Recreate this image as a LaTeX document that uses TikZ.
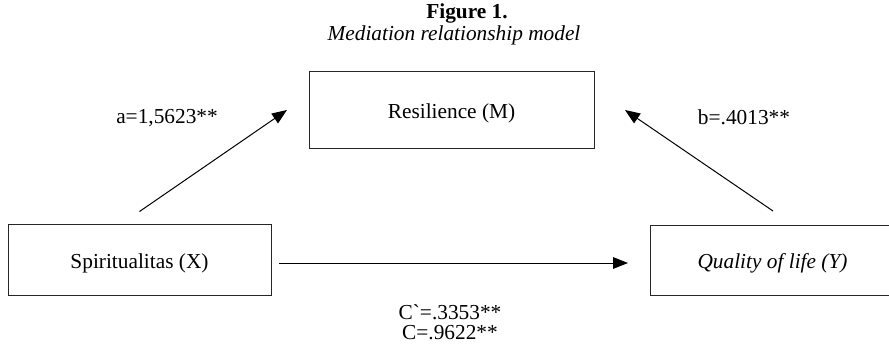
\documentclass[tikz,border=0pt]{standalone}
\usepackage{fontspec}
\setmainfont{Liberation Serif}
\usetikzlibrary{arrows.meta,positioning,calc}

\begin{document}
\begin{tikzpicture}[
    x=0.6pt, y=-0.6pt,
    every node/.style={font=\fontsize{12.8}{15}\selectfont},
    var/.style={rectangle, draw=black!85, line width=0.6pt, inner sep=0pt, outer sep=0pt, text height=13.4pt, text depth=2.8pt},
    effect/.style={draw=black, line width=0.6pt, -{Triangle[length=9pt, width=7pt]}},
    coef/.style={inner sep=0pt}
]
\useasboundingbox (0,0) rectangle (889,346);

% Title
\node (title) at (467,13) {\textbf{Figure 1.}};
\node (subtitle) at (454,35) {\textit{Mediation relationship model}};

% Variables
\node (M) [var, minimum width=171pt, minimum height=46.2pt] at (451.5,109.5) {Resilience (M)};
\node (X) [var, minimum width=157.8pt, minimum height=42.6pt] at (139.5,260) {Spiritualitas (X)};
\node (Y) [var, minimum width=147pt, minimum height=42pt] at (772.5,260) {\textit{Quality of life (Y)}};

% Free ends of the paths
\coordinate (aS) at ($(X.north)+(0,-13)$);
\coordinate (aE) at ($(M.west)+(-22,0.5)$);
\coordinate (bS) at ($(Y.north)+(0.5,-14)$);
\coordinate (bE) at ($(M.east)+(31,0.5)$);

% Paths
\draw[effect] (aS) -- (aE);
\draw[effect] (bS) -- (bE);
\draw[effect] ($(X.east)+(8,3)$) -- ($(Y.west)+(-22,3)$);

% Coefficients
\node (a) [coef] at (167,118) {a=1,5623**};
\node (b) [coef] at (744,117) {b=.4013**};
\node (c) [coef, align=center, font=\fontsize{12.8}{12}\selectfont] at (450,322) {C\textasciigrave=.3353**\\C=.9622**};

\end{tikzpicture}
\end{document}
